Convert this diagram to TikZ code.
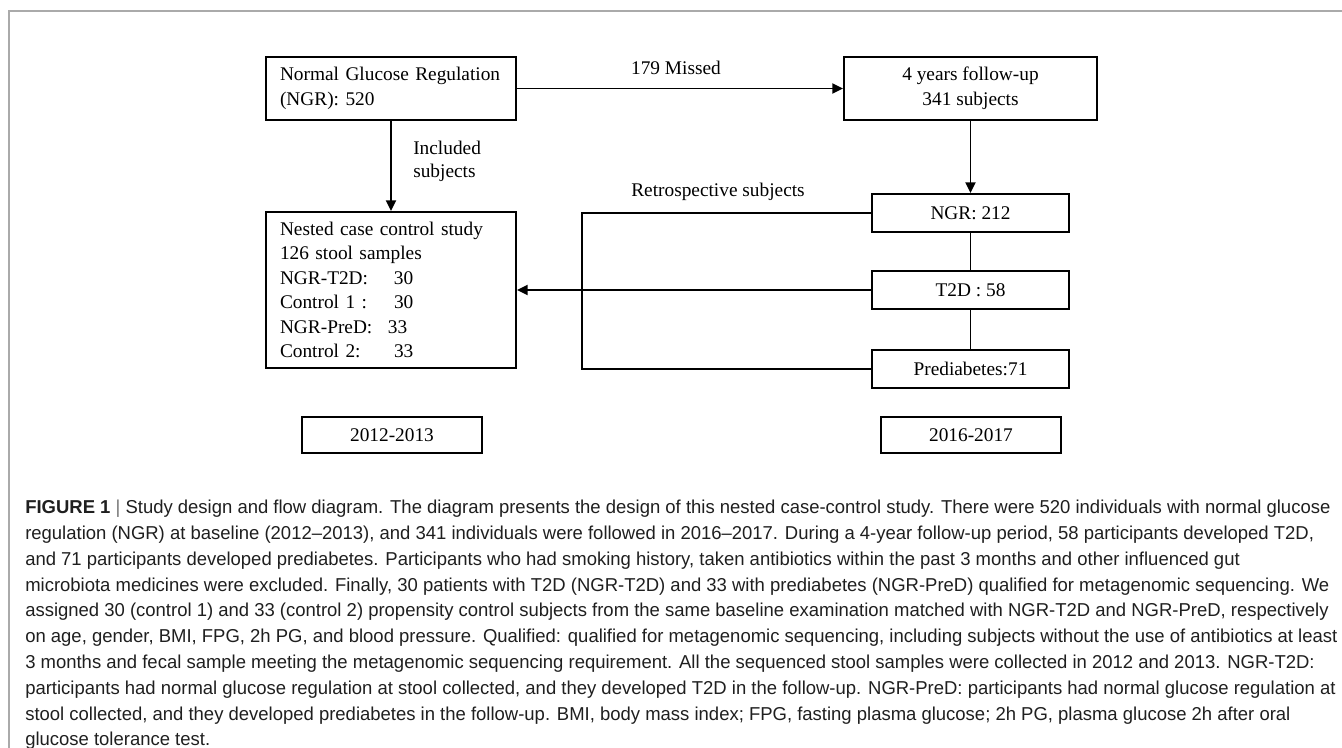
\documentclass[tikz,border=0pt]{standalone}
\usepackage{fontspec}
\setmainfont{Liberation Serif}
\newfontfamily\capfont[FakeStretch=0.99]{Liberation Sans}
\usetikzlibrary{arrows.meta}
\definecolor{framegray}{RGB}{170,170,170}
\tikzset{>={Triangle[length=8pt,width=7.5pt]}}
\tikzset{
  box/.style={draw, line width=1.4pt, inner sep=0pt, font=\fontsize{14.5}{18.4}\selectfont},
  leftbox/.style={box, align=left, inner xsep=8pt, text width=171.5pt},
  midbox/.style={box, align=center, minimum width=189.75pt, minimum height=47.25pt},
  smallbox/.style={box, minimum width=147.75pt, minimum height=28.5pt},
  yearbox/.style={box, minimum width=135pt, minimum height=27pt},
  lbl/.style={inner sep=0pt, font=\fontsize{14.5}{17.2}\selectfont},
  link/.style={line width=1.4pt}
}

\begin{document}
\begin{tikzpicture}[x=0.75pt, y=-0.75pt]
    \useasboundingbox (0,0) rectangle (1342,748);
    \draw[framegray, line width=1.1pt] (9,748) -- (9,11) -- (1342,11);
    % boxes
    \node[leftbox, minimum height=47.25pt] (ngr) at (391,88.5) {\hspace*{2.5pt}Normal Glucose Regulation\\\hspace*{2.5pt}(NGR): 520};
    \node[midbox] (fu) at (970.5,88.5) {4 years follow-up\\341 subjects};
    \node[leftbox, minimum height=117pt] (nested) at (391,290) {\hspace*{2.5pt}Nested case control study\\\hspace*{2.5pt}126 stool samples\\
        \hspace*{2.5pt}\makebox[85.5pt][l]{NGR-T2D:}30\\\hspace*{2.5pt}\makebox[85.5pt][l]{Control 1 :}30\\
        \hspace*{2.5pt}\makebox[81pt][l]{NGR-PreD:}33\\\hspace*{2.5pt}\makebox[85.5pt][l]{Control 2:}33};
    \node[smallbox] (ngr2) at (970.5,213) {NGR: 212};
    \node[smallbox] (t2d) at (970.5,290) {T2D : 58};
    \node[smallbox] (pred) at (970.5,369) {Prediabetes:71};
    \node[yearbox] (y1) at (392,435) {2012-2013};
    \node[yearbox] (y2) at (971,435) {2016-2017};
    % labels
    \node[lbl] (missed) at (676,68) {179 Missed};
    \node[lbl, align=left, anchor=west] (incl) at (413,161) {Included\\subjects};
    \node[lbl] (retro) at (718,192) {Retrospective subjects};
    % connectors
    \draw[link,->] (ngr) -- (fu);
    \draw[link,->] (ngr) -- (nested);
    \draw[link,->] (fu) -- (ngr2);
    \draw[link] (ngr2) -- (t2d) (t2d) -- (pred);
    \coordinate (bend) at (582,213);
    \draw[link] (ngr2) -- (bend) |- (pred);
    \draw[link,->] (t2d) -- (nested);
    % caption
    \node[anchor=north west, align=left, inner sep=0pt, text=black!88,
        font=\capfont\fontsize{14}{19.35}\selectfont] (cap) at (25,500)
        {\textbf{FIGURE 1} {\color{black!55}|} Study design and flow diagram. The diagram presents the design of this nested case-control study. There were 520 individuals with normal glucose\\
        regulation (NGR) at baseline (2012–2013), and 341 individuals were followed in 2016–2017. During a 4-year follow-up period, 58 participants developed T2D,\\
        and 71 participants developed prediabetes. Participants who had smoking history, taken antibiotics within the past 3 months and other influenced gut\\
        microbiota medicines were excluded. Finally, 30 patients with T2D (NGR-T2D) and 33 with prediabetes (NGR-PreD) qualified for metagenomic sequencing. We\\
        assigned 30 (control 1) and 33 (control 2) propensity control subjects from the same baseline examination matched with NGR-T2D and NGR-PreD, respectively\\
        on age, gender, BMI, FPG, 2h PG, and blood pressure. Qualified: qualified for metagenomic sequencing, including subjects without the use of antibiotics at least\\
        3 months and fecal sample meeting the metagenomic sequencing requirement. All the sequenced stool samples were collected in 2012 and 2013. NGR-T2D:\\
        participants had normal glucose regulation at stool collected, and they developed T2D in the follow-up. NGR-PreD: participants had normal glucose regulation at\\
        stool collected, and they developed prediabetes in the follow-up. BMI, body mass index; FPG, fasting plasma glucose; 2h PG, plasma glucose 2h after oral\\
        glucose tolerance test.};
\end{tikzpicture}
\end{document}
